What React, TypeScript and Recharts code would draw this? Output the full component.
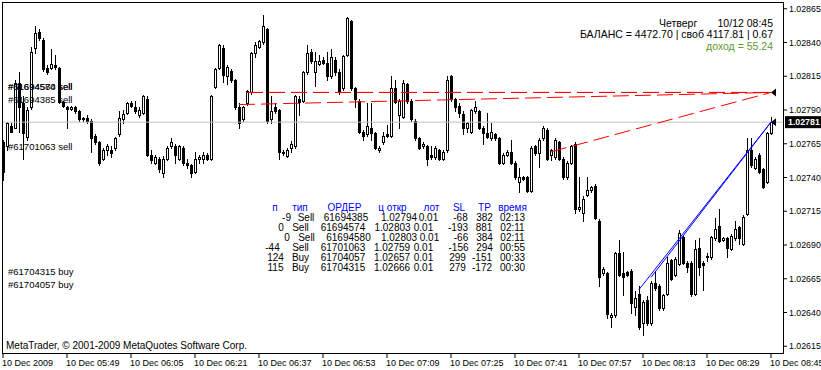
import React from "react";
import {
  ComposedChart,
  Bar,
  XAxis,
  YAxis,
  ReferenceLine,
  ReferenceDot,
} from "recharts";

// one-minute candles, 10 Dec 05:33 .. 08:45
const opens = [
  1.02766, 1.02763, 1.02778, 1.02777, 1.0281, 1.02795, 1.0277, 1.02792, 1.02836, 1.02848,
  1.02842, 1.02821, 1.02821, 1.02823, 1.02821, 1.02796, 1.02792, 1.02791, 1.02792, 1.02789,
  1.02783, 1.02784, 1.02782, 1.02771, 1.02766, 1.02754, 1.0276, 1.0276, 1.02762, 1.02772,
  1.02783, 1.02788, 1.02795, 1.02792, 1.02786, 1.02788, 1.02798, 1.02757, 1.02751, 1.02754,
  1.02743, 1.02754, 1.02763, 1.02763, 1.02754, 1.02762, 1.02751, 1.02749, 1.02744, 1.02754,
  1.02754, 1.02757, 1.02754, 1.02807, 1.02821, 1.02836, 1.02815, 1.02819, 1.02812, 1.02792,
  1.02783, 1.02795, 1.02803, 1.02832, 1.02837, 1.0284, 1.0285, 1.02783, 1.02792, 1.0279,
  1.02759, 1.02756, 1.02762, 1.02763, 1.02798, 1.02797, 1.02818, 1.02833, 1.02818, 1.02824,
  1.02827, 1.02825, 1.02815, 1.02827, 1.02818, 1.02806, 1.02831, 1.02856, 1.02806, 1.02797,
  1.02774, 1.02772, 1.02777, 1.02773, 1.0276, 1.02766, 1.02772, 1.02771, 1.02806, 1.02786,
  1.02785, 1.02809, 1.02797, 1.02782, 1.02769, 1.02763, 1.02763, 1.02757, 1.02755, 1.0276,
  1.02754, 1.0276, 1.02815, 1.02798, 1.02793, 1.02787, 1.02777, 1.02774, 1.02789, 1.02789,
  1.02777, 1.02773, 1.02769, 1.02772, 1.02769, 1.02751, 1.02757, 1.02759, 1.02751, 1.02737,
  1.0274, 1.0274, 1.0273, 1.02763, 1.02758, 1.02769, 1.02775, 1.02757, 1.02755, 1.02766,
  1.02754, 1.0274, 1.02751, 1.02765, 1.02717, 1.02714, 1.02727, 1.02731, 1.02734, 1.02708,
  1.02669, 1.02669, 1.02637, 1.02638, 1.02684, 1.02669, 1.0267, 1.02671, 1.02644, 1.02654,
  1.02632, 1.02649, 1.02632, 1.02662, 1.0266, 1.02643, 1.02654, 1.02679, 1.02668, 1.02676,
  1.02696, 1.02677, 1.02677, 1.02654, 1.02688, 1.02677, 1.02681, 1.02681, 1.02695, 1.02704,
  1.02694, 1.02695, 1.02687, 1.02695, 1.02703, 1.02691, 1.02713, 1.0276, 1.02747, 1.02757,
  1.02746, 1.02737, 1.02773,
];
const highs = [
  1.02768, 1.02781, 1.0278, 1.02812, 1.02818, 1.028, 1.02792, 1.02837, 1.02852, 1.0285,
  1.02843, 1.02823, 1.02835, 1.02831, 1.02822, 1.02797, 1.02793, 1.02793, 1.02793, 1.0279,
  1.02785, 1.02786, 1.02783, 1.02772, 1.02767, 1.02762, 1.02765, 1.02763, 1.0277, 1.02789,
  1.0279, 1.02796, 1.02797, 1.02797, 1.02792, 1.02801, 1.028, 1.0276, 1.02757, 1.02755,
  1.02756, 1.02763, 1.02769, 1.02765, 1.02764, 1.02763, 1.02754, 1.0275, 1.02759, 1.02757,
  1.02759, 1.02758, 1.02801, 1.02821, 1.02839, 1.02838, 1.02823, 1.0282, 1.02813, 1.02795,
  1.02793, 1.02805, 1.02833, 1.0284, 1.02842, 1.0286, 1.02851, 1.028, 1.02795, 1.02791,
  1.0276, 1.02762, 1.02767, 1.02801, 1.028, 1.02819, 1.02838, 1.02835, 1.02833, 1.02831,
  1.02829, 1.02833, 1.02835, 1.02829, 1.0282, 1.02831, 1.02859, 1.02857, 1.02807, 1.02798,
  1.02775, 1.02795, 1.02795, 1.02774, 1.02763, 1.02774, 1.02779, 1.02815, 1.02812, 1.02798,
  1.02812, 1.0281, 1.02798, 1.02783, 1.0277, 1.02766, 1.02764, 1.02763, 1.02763, 1.02761,
  1.0276, 1.02815, 1.02816, 1.02799, 1.02795, 1.02789, 1.02781, 1.02791, 1.02797, 1.0279,
  1.02778, 1.02788, 1.0278, 1.02773, 1.0277, 1.02758, 1.0276, 1.02768, 1.02752, 1.02747,
  1.02741, 1.02741, 1.02763, 1.02764, 1.02769, 1.02778, 1.02777, 1.02761, 1.02769, 1.02767,
  1.02755, 1.02752, 1.02764, 1.02766, 1.0274, 1.02726, 1.0274, 1.02734, 1.02735, 1.02709,
  1.02674, 1.0267, 1.0264, 1.02685, 1.02694, 1.02685, 1.02671, 1.02672, 1.02656, 1.0266,
  1.02649, 1.02652, 1.02663, 1.02671, 1.02661, 1.02654, 1.02681, 1.0268, 1.02681, 1.02701,
  1.02697, 1.02678, 1.02678, 1.02694, 1.02695, 1.02678, 1.02684, 1.02697, 1.0271, 1.02717,
  1.02696, 1.02696, 1.02698, 1.02708, 1.02704, 1.02712, 1.02769, 1.02769, 1.02755, 1.02758,
  1.02747, 1.02774, 1.02785,
];
const lows = [
  1.02738, 1.0276, 1.02774, 1.02777, 1.02774, 1.02754, 1.02768, 1.02791, 1.02832, 1.02842,
  1.02819, 1.02817, 1.0282, 1.0282, 1.02795, 1.02792, 1.02777, 1.0279, 1.02788, 1.02782,
  1.02782, 1.0278, 1.02759, 1.02765, 1.02749, 1.02753, 1.02757, 1.02755, 1.0276, 1.02771,
  1.0278, 1.02787, 1.02792, 1.02788, 1.02785, 1.02787, 1.02756, 1.02751, 1.0275, 1.02744,
  1.0274, 1.02753, 1.02762, 1.02751, 1.02753, 1.02749, 1.02747, 1.0274, 1.02743, 1.02751,
  1.02751, 1.02753, 1.02753, 1.02806, 1.0282, 1.02811, 1.02809, 1.02811, 1.02791, 1.02777,
  1.02782, 1.02794, 1.02802, 1.02829, 1.02836, 1.02839, 1.0278, 1.0278, 1.02788, 1.02754,
  1.02757, 1.02755, 1.02759, 1.02762, 1.02786, 1.02796, 1.02817, 1.02825, 1.02808, 1.02823,
  1.02824, 1.02812, 1.02814, 1.02816, 1.02802, 1.02805, 1.0283, 1.02805, 1.02792, 1.02773,
  1.02768, 1.02771, 1.02768, 1.02761, 1.02759, 1.02765, 1.0277, 1.0277, 1.02795, 1.02777,
  1.02784, 1.02795, 1.02782, 1.02768, 1.02761, 1.02762, 1.02749, 1.02754, 1.02754, 1.02753,
  1.02753, 1.02759, 1.02797, 1.02789, 1.02785, 1.02772, 1.02774, 1.02773, 1.02788, 1.02776,
  1.02765, 1.02769, 1.02768, 1.02768, 1.0275, 1.0275, 1.02756, 1.0275, 1.02739, 1.02729,
  1.02738, 1.02729, 1.02729, 1.02757, 1.02748, 1.02768, 1.02753, 1.02753, 1.02754, 1.02753,
  1.02739, 1.02739, 1.0275, 1.02714, 1.02715, 1.02708, 1.02726, 1.02729, 1.02709, 1.0266,
  1.02668, 1.02636, 1.02629, 1.02637, 1.02667, 1.02653, 1.02667, 1.0264, 1.02638, 1.02628,
  1.02623, 1.02631, 1.02631, 1.02657, 1.02642, 1.02642, 1.02653, 1.02664, 1.02667, 1.02675,
  1.02676, 1.0267, 1.02652, 1.02653, 1.02668, 1.02657, 1.02678, 1.0268, 1.02694, 1.02692,
  1.02693, 1.02681, 1.02686, 1.02694, 1.02691, 1.0269, 1.02712, 1.02748, 1.02746, 1.02743,
  1.02732, 1.02736, 1.02772,
];
const closes = [
  1.02744, 1.0278, 1.02774, 1.0281, 1.02792, 1.02773, 1.0279, 1.02833, 1.02847, 1.02843,
  1.0282, 1.02818, 1.02824, 1.02822, 1.02796, 1.02793, 1.02791, 1.02792, 1.02789, 1.02783,
  1.02784, 1.02782, 1.02769, 1.02766, 1.02751, 1.0276, 1.02763, 1.02758, 1.02769, 1.02784,
  1.02787, 1.02795, 1.02793, 1.02789, 1.0279, 1.028, 1.02757, 1.02753, 1.02755, 1.02746,
  1.02754, 1.02762, 1.02766, 1.02757, 1.02763, 1.02751, 1.02749, 1.02743, 1.02754, 1.02755,
  1.02757, 1.02754, 1.028, 1.0282, 1.02838, 1.02816, 1.02822, 1.02812, 1.02792, 1.0278,
  1.02792, 1.02804, 1.02832, 1.02838, 1.02841, 1.02852, 1.02782, 1.02789, 1.02789, 1.02759,
  1.02758, 1.0276, 1.02765, 1.028, 1.02796, 1.02818, 1.02832, 1.02826, 1.02826, 1.02826,
  1.02825, 1.02815, 1.02829, 1.02818, 1.02803, 1.0283, 1.02858, 1.02806, 1.02798, 1.02774,
  1.02771, 1.02778, 1.02773, 1.02762, 1.02762, 1.02771, 1.02771, 1.02806, 1.02796, 1.02797,
  1.0281, 1.02797, 1.02783, 1.02769, 1.02762, 1.02765, 1.02754, 1.02755, 1.02762, 1.02754,
  1.02759, 1.02812, 1.02798, 1.02792, 1.02788, 1.02777, 1.0278, 1.0279, 1.02792, 1.02777,
  1.02773, 1.0277, 1.02774, 1.02769, 1.02751, 1.02757, 1.02759, 1.02751, 1.0274, 1.0274,
  1.02739, 1.0273, 1.02762, 1.02758, 1.02768, 1.02777, 1.02754, 1.0276, 1.02768, 1.02754,
  1.0274, 1.02751, 1.02763, 1.02717, 1.02718, 1.02724, 1.02731, 1.02733, 1.0271, 1.02666,
  1.02672, 1.02639, 1.02638, 1.02684, 1.02668, 1.02666, 1.02668, 1.02647, 1.02651, 1.02629,
  1.02648, 1.02632, 1.02662, 1.02658, 1.02643, 1.02653, 1.02677, 1.02665, 1.0268, 1.02699,
  1.02677, 1.02674, 1.02654, 1.02687, 1.02674, 1.02675, 1.02682, 1.02696, 1.02702, 1.02693,
  1.02695, 1.02688, 1.02697, 1.02702, 1.02695, 1.02711, 1.0276, 1.02749, 1.02754, 1.02744,
  1.02733, 1.02773, 1.02781,
];

const timeTicks = [0, 16, 32, 48, 64, 80, 96, 112, 128, 144, 160, 176, 192];
const timeLabels = [
  "10 Dec 2009", "10 Dec 05:49", "10 Dec 06:05", "10 Dec 06:21", "10 Dec 06:37",
  "10 Dec 06:53", "10 Dec 07:09", "10 Dec 07:25", "10 Dec 07:41", "10 Dec 07:57",
  "10 Dec 08:13", "10 Dec 08:29", "10 Dec 08:45",
];
const priceTicks = [1.02615, 1.0264, 1.02665, 1.0269, 1.02715, 1.0274, 1.02765, 1.0279, 1.02815, 1.0284, 1.02865];

const bid = 1.02781;
const ask = 1.02803;
const lastBar = 192;

// open orders: [label, open bar, open price]
const sellOrders: [string, number, number][] = [
  ["#61694385 sell", 59, 1.02794],
  ["#61694574 sell", 61, 1.02803],
  ["#61694580 sell", 61, 1.02803],
  ["#61701063 sell", 137, 1.02759],
];
const buyOrders: [string, number, number][] = [
  ["#61704057 buy", 159, 1.02657],
  ["#61704315 buy", 162, 1.02666],
];

const infoDay = "Четверг";
const infoTime = "10/12 08:45";
const infoBalance = "БАЛАНС = 4472.70 | своб 4117.81 | 0.67";
const infoProfit = "доход = 55.24";
const copyright = "MetaTrader, © 2001-2009 MetaQuotes Software Corp.";

const tableHeader = ["п", "тип", "ОРДЕР", "ц откр", "лот", "SL", "TP", "время"];
const tableRows = [
  ["-9", "Sell", "61694385", "1.02794", "0.01", "-68", "382", "02:13"],
  ["0", "Sell", "61694574", "1.02803", "0.01", "-193", "881", "02:11"],
  ["0", "Sell", "61694580", "1.02803", "0.01", "-66", "384", "02:11"],
  ["-44", "Sell", "61701063", "1.02759", "0.01", "-156", "294", "00:55"],
  ["124", "Buy", "61704057", "1.02657", "0.01", "299", "-151", "00:33"],
  ["115", "Buy", "61704315", "1.02666", "0.01", "279", "-172", "00:30"],
];
// centre x of every cell (the terminal pads with spaces, so rows don't line up)
const headerX = [275, 300, 344.5, 392.5, 431.5, 459, 484.5, 512.5];
const rowX = [
  [286.5, 306, 346, 399, 428.5, 460.5, 484.5, 512.5],
  [281, 300.5, 343, 392.5, 423.5, 458, 484, 512.5],
  [287, 306.5, 348.5, 399, 429.5, 461, 484.5, 512.5],
  [272.5, 300.5, 343, 392, 423.5, 458.5, 484.5, 512.5],
  [275.5, 300.5, 343, 392, 423.5, 457.5, 482, 512.5],
  [275.5, 300.5, 343, 392, 423.5, 457.5, 482, 512.5],
];

const FONT = "'Liberation Sans', Arial, sans-serif";

const data = opens.map((o, i) => ({
  i,
  open: o,
  high: highs[i],
  low: lows[i],
  close: closes[i],
}));

const Candle = (props: any) => {
  const { x, y, width, height, payload } = props;
  if (!payload) return null;
  const { open, close, high, low } = payload;
  const k = Math.abs(height) / (high - low);
  const top = Math.min(y, y + height);
  const py = (v: number) => Math.round(top + (high - v) * k);
  const col = Math.round(x + width / 2);
  const yo = py(open);
  const yc = py(close);
  const bt = Math.min(yo, yc);
  const bb = Math.max(yo, yc);
  const bull = close >= open;
  return (
    <g>
      <line x1={col + 0.5} x2={col + 0.5} y1={py(high)} y2={py(low) + 1} stroke="#000" />
      {bb - bt < 1 ? (
        <rect x={col - 1} y={bt} width={3} height={1} fill="#000" />
      ) : bull ? (
        <rect x={col - 0.5} y={bt + 0.5} width={2} height={bb - bt} fill="#fff" stroke="#000" />
      ) : (
        <rect x={col - 1} y={bt} width={3} height={bb - bt + 1} fill="#000" />
      )}
    </g>
  );
};

const TimeTick = (props: any) => {
  const { x, y, payload } = props;
  const idx = timeTicks.indexOf(payload.value);
  return (
    <text x={x - 1} y={y} dy="0.71em" textAnchor="start" fontSize={9} fontFamily={FONT} fill="#000">
      {timeLabels[idx]}
    </text>
  );
};

const orderLabel = (text: string) => (p: any) => {
  const vb = p.viewBox;
  return (
    <text x={vb.x + 6} y={vb.y - 2} fontSize={9.5} fontFamily={FONT} fill="#000">
      {text}
    </text>
  );
};

const bidLabel = (p: any) => {
  const vb = p.viewBox;
  const bx = vb.x + vb.width + 2;
  return (
    <g>
      <rect x={bx} y={vb.y - 6} width={40} height={12} fill="#000" />
      <text x={bx + 3} y={vb.y} dy="0.355em" fontSize={8.8} fontWeight="bold" fontFamily={FONT} fill="#fff">
        {bid.toFixed(5)}
      </text>
    </g>
  );
};

const Arrow = (p: any) => (
  <polygon points={`${p.cx},${p.cy} ${p.cx + 5},${p.cy - 4} ${p.cx + 5},${p.cy + 4}`} fill="#000" />
);

export default function App() {
  return (
    <div style={{ position: "fixed", left: 0, top: 0, width: 821, height: 370, background: "#fff" }}>
      <ComposedChart width={821} height={370} data={data} margin={{ top: 2, right: 0, bottom: 0, left: 2 }}>
        <XAxis
          dataKey="i"
          type="number"
          domain={[-0.25, 195]}
          ticks={timeTicks}
          height={17}
          tickSize={5}
          tickMargin={2}
          axisLine={false}
          tickLine={{ stroke: "#000" }}
          tick={<TimeTick />}
          interval={0}
        />
        <YAxis
          orientation="right"
          type="number"
          domain={[1.0261, 1.0287]}
          ticks={priceTicks}
          allowDataOverflow
          width={38}
          tickSize={4}
          tickMargin={2}
          axisLine={false}
          tickLine={{ stroke: "#000" }}
          interval={0}
          tick={{ fill: "#000", fontSize: 8.8, fontFamily: FONT }}
          tickFormatter={(v: number) => v.toFixed(5)}
        />
        <ReferenceLine y={bid} stroke="#C0C0C0" label={bidLabel} />
        <Bar
          dataKey={(d: any) => [d.low, d.high]}
          barSize={4}
          shape={(p: any) => <Candle {...p} />}
          isAnimationActive={false}
        />
        {sellOrders.map(([name, bar, price]) => (
          <ReferenceLine key={"s" + name} y={price} stroke="none" label={orderLabel(name)} />
        ))}
        {buyOrders.map(([name, bar, price]) => (
          <ReferenceLine key={"b" + name} y={price} stroke="none" label={orderLabel(name)} />
        ))}
        {sellOrders.map(([name, bar, price]) => (
          <ReferenceLine
            key={"sl" + name}
            segment={[{ x: bar, y: price }, { x: lastBar, y: ask }]}
            stroke="#FF0000"
            strokeDasharray="16 6"
          />
        ))}
        {buyOrders.map(([name, bar, price]) => (
          <ReferenceLine
            key={"bl" + name}
            segment={[{ x: bar, y: price }, { x: lastBar, y: bid }]}
            stroke="#0000FF"
          />
        ))}
        <ReferenceDot x={lastBar} y={ask} r={4} shape={Arrow} />
        <ReferenceDot x={lastBar} y={bid} r={4} shape={Arrow} />
      </ComposedChart>
      <div
        style={{
          position: "absolute",
          left: 2,
          top: 2,
          width: 782,
          height: 352,
          border: "1px solid #000",
          boxSizing: "border-box",
          pointerEvents: "none",
        }}
      />
      <svg
        width={821}
        height={370}
        style={{ position: "absolute", left: 0, top: 0, pointerEvents: "none" }}
        fontFamily={FONT}
      >
        <text x={659} y={26.5} fontSize={10.5} fill="#000">{infoDay}</text>
        <text x={773} y={26.5} fontSize={10.5} fill="#000" textAnchor="end">{infoTime}</text>
        <text x={773} y={38} fontSize={10.5} fill="#000" textAnchor="end">{infoBalance}</text>
        <text x={773} y={50} fontSize={10.5} fill="#5C9E31" textAnchor="end">{infoProfit}</text>
        <text x={6} y={348.5} fontSize={10} fill="#000">{copyright}</text>
        {tableHeader.map((h, c) => (
          <text key={"h" + c} x={headerX[c]} y={211} fontSize={10} fill="#0000FF" textAnchor="middle">{h}</text>
        ))}
        {tableRows.map((row, r) =>
          row.map((cell, c) => (
            <text key={r + "-" + c} x={rowX[r][c]} y={221 + r * 10} fontSize={10} fill="#000" textAnchor="middle">
              {cell}
            </text>
          ))
        )}
      </svg>
    </div>
  );
}
